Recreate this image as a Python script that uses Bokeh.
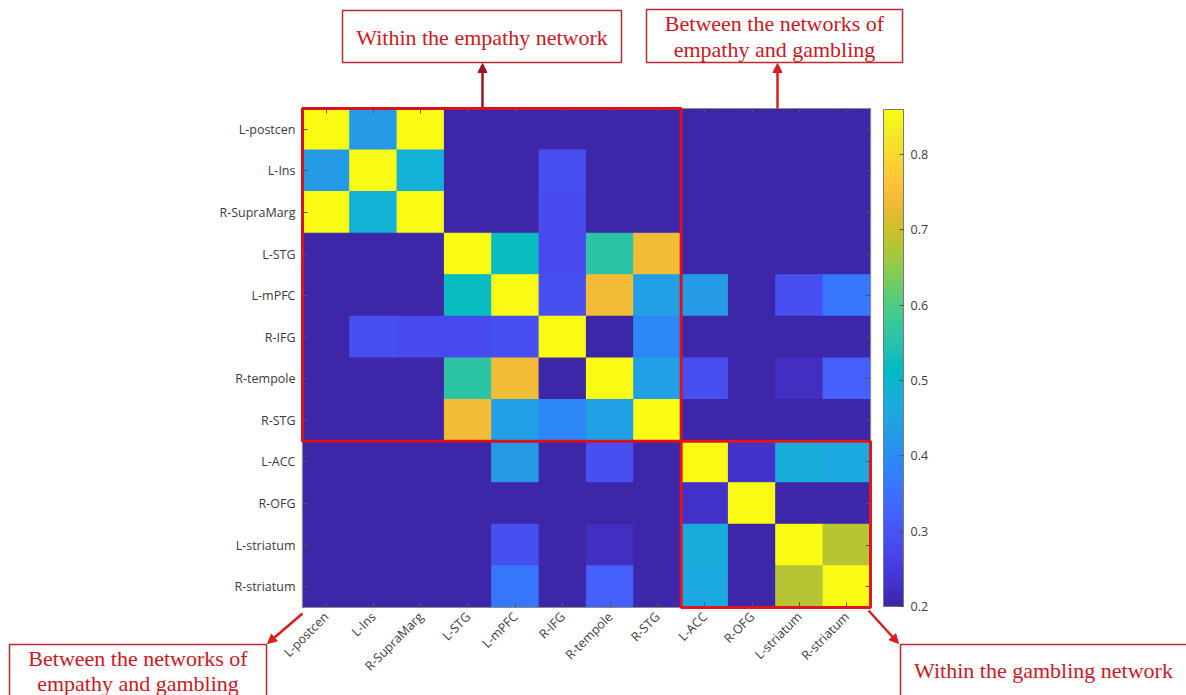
import numpy as np
from bokeh.plotting import figure
from bokeh.models import (LinearColorMapper, ColorBar, FixedTicker, Range1d, LinearAxis,
                          Label, Arrow, NormalHead, BoxAnnotation, ColumnDataSource)
from bokeh.transform import transform
from bokeh.embed import file_html
from bokeh.resources import INLINE

# ---- regions of interest -------------------------------------------------
regions = ["L-postcen", "L-Ins", "R-SupraMarg", "L-STG", "L-mPFC", "R-IFG",
           "R-tempole", "R-STG", "L-ACC", "R-OFG", "L-striatum", "R-striatum"]
network_names = ["empathy", "gambling"]
network_sizes = [8, 4]

# ---- connectivity matrix, one row per region -----------------------------
row_l_postcen   = [1.00, 0.43, 0.88, 0.20, 0.20, 0.20, 0.20, 0.20, 0.20, 0.20, 0.20, 0.20]
row_l_ins       = [0.43, 1.00, 0.48, 0.20, 0.20, 0.29, 0.20, 0.20, 0.20, 0.20, 0.20, 0.20]
row_r_supramarg = [0.88, 0.48, 1.00, 0.20, 0.20, 0.28, 0.20, 0.20, 0.20, 0.20, 0.20, 0.20]
row_l_stg       = [0.20, 0.20, 0.20, 1.00, 0.52, 0.28, 0.56, 0.74, 0.20, 0.20, 0.20, 0.20]
row_l_mpfc      = [0.20, 0.20, 0.20, 0.52, 1.00, 0.29, 0.74, 0.44, 0.43, 0.20, 0.29, 0.36]
row_r_ifg       = [0.20, 0.29, 0.28, 0.28, 0.29, 1.00, 0.20, 0.39, 0.20, 0.20, 0.20, 0.20]
row_r_tempole   = [0.20, 0.20, 0.20, 0.56, 0.74, 0.20, 1.00, 0.44, 0.29, 0.20, 0.225, 0.32]
row_r_stg       = [0.20, 0.20, 0.20, 0.74, 0.44, 0.39, 0.44, 1.00, 0.20, 0.20, 0.20, 0.20]
row_l_acc       = [0.20, 0.20, 0.20, 0.20, 0.43, 0.20, 0.29, 0.20, 1.00, 0.233, 0.47, 0.46]
row_r_ofg       = [0.20, 0.20, 0.20, 0.20, 0.20, 0.20, 0.20, 0.20, 0.233, 1.00, 0.20, 0.20]
row_l_striatum  = [0.20, 0.20, 0.20, 0.20, 0.29, 0.20, 0.225, 0.20, 0.47, 0.20, 1.00, 0.68]
row_r_striatum  = [0.20, 0.20, 0.20, 0.20, 0.36, 0.20, 0.32, 0.20, 0.46, 0.20, 0.68, 1.00]

matrix = [row_l_postcen, row_l_ins, row_r_supramarg, row_l_stg, row_l_mpfc, row_r_ifg,
          row_r_tempole, row_r_stg, row_l_acc, row_r_ofg, row_l_striatum, row_r_striatum]

color_low, color_high = 0.2, 0.86
colorbar_ticks = [0.2, 0.3, 0.4, 0.5, 0.6, 0.7, 0.8]

# ---- parula-like palette -------------------------------------------------
_anchors = np.array([
    [0.2422, 0.1504, 0.6603], [0.2647, 0.1978, 0.7952], [0.2783, 0.2559, 0.8991],
    [0.2810, 0.3228, 0.9579], [0.2699, 0.3892, 0.9906], [0.2206, 0.4603, 0.9973],
    [0.1786, 0.5289, 0.9682], [0.1540, 0.5902, 0.9218], [0.1248, 0.6459, 0.8883],
    [0.0689, 0.6948, 0.8394], [0.0067, 0.7312, 0.7660], [0.1408, 0.7584, 0.6842],
    [0.2161, 0.7843, 0.5923], [0.3406, 0.8008, 0.4789], [0.5044, 0.7993, 0.3480],
    [0.6720, 0.7793, 0.2227], [0.8203, 0.7498, 0.1535], [0.9393, 0.7288, 0.2100],
    [0.9970, 0.7659, 0.2199], [0.9786, 0.8386, 0.1766], [0.9597, 0.9135, 0.1423],
    [0.9769, 0.9839, 0.0805]])
_t_a = np.linspace(0, 1, len(_anchors))
_t = np.linspace(0, 1, 256)
parula = ["#%02x%02x%02x" % tuple(int(round(255 * np.interp(tt, _t_a, _anchors[:, k])))
                                   for k in range(3)) for tt in _t]

# ---- long-form table for the heatmap (cell centres at index + 0.5) --------
n = len(regions)
xs, ys, vals = [], [], []
for i in range(n):
    for j in range(n):
        xs.append(j + 0.5)
        ys.append(i + 0.5)
        vals.append(matrix[i][j])
source = ColumnDataSource(dict(x=xs, y=ys, v=vals))

mapper = LinearColorMapper(palette=parula, low=color_low, high=color_high)

# ---- page and matrix placement (pixels) -----------------------------------
W, H = 1186, 695
FL, FT, FR, FB = 302, 108, 870, 607
cw = (FR - FL) / n
ch = (FB - FT) / n

p = figure(width=W, height=H,
           x_range=Range1d(-FL / cw, (W - FL) / cw),
           y_range=Range1d((H - FT) / ch, -FT / ch),     # row 0 at the top
           x_axis_location=None, y_axis_location=None,
           output_backend="svg", toolbar_location=None,
           min_border_left=0, min_border_right=0, min_border_top=0, min_border_bottom=0)
p.title.visible = False
p.background_fill_color = "white"
p.border_fill_color = "white"
p.outline_line_color = None
p.grid.visible = False

# cells: outline in the fill colour so neighbouring cells meet without seams
p.rect(x="x", y="y", width=1, height=1, source=source,
       fill_color=transform("v", mapper), line_color=transform("v", mapper),
       line_width=1.2)

# ---- axes pinned to the matrix edges --------------------------------------
tick_pos = [k + 0.5 for k in range(n)]
names = {t: r for t, r in zip(tick_pos, regions)}
blank = {t: "" for t in tick_pos}


def make_axis(loc, labels):
    ax = LinearAxis(fixed_location=loc, ticker=FixedTicker(ticks=tick_pos),
                    major_label_overrides=labels, bounds=(0, n))
    ax.major_label_text_font = "Open Sans"
    ax.major_label_text_font_size = "12.5px"
    ax.major_label_text_color = "#3c3c3c"
    ax.axis_line_color = "#8c8c8c"
    ax.major_tick_line_color = "#555555"
    ax.major_tick_in = 5
    ax.major_tick_out = 0
    ax.minor_tick_line_color = None
    ax.major_label_standoff = 7
    return ax


ax_left = make_axis(0, names)
ax_below = make_axis(n, names)
ax_below.major_label_orientation = np.pi / 4
ax_above = make_axis(0, blank)
ax_right = make_axis(n, blank)
p.add_layout(ax_left, "left")
p.add_layout(ax_below, "below")
p.add_layout(ax_above, "above")
p.add_layout(ax_right, "right")

# network blocks outlined in red, drawn above the axis lines
n_emp, n_gam = network_sizes
blocks = p.quad(left=[0, n_emp], right=[n_emp, n_emp + n_gam],
                top=[0, n_emp], bottom=[n_emp, n_emp + n_gam],
                fill_color=None, line_color=["#d8121f", "#e3141c"], line_width=3)
blocks.level = "overlay"

# ---- colour bar -----------------------------------------------------------
cb = ColorBar(color_mapper=mapper, ticker=FixedTicker(ticks=colorbar_ticks),
              orientation="vertical", width=20, height=497,
              location=(883, H - 606), margin=0, padding=0,
              bar_line_color="#7a7a7a", major_tick_line_color="#555555",
              major_tick_in=4, major_tick_out=0, label_standoff=7,
              major_label_text_font="Open Sans", major_label_text_font_size="12.5px",
              major_label_text_color="#3c3c3c", background_fill_alpha=0,
              border_line_color=None)
p.add_layout(cb, "center")


# ---- callouts, positioned in page pixels ----------------------------------
def sx(x):
    return x


def sy(y):
    return H - y


box_color = "#bf2a2e"
text_color = "#d3161c"
callouts = [
    (342, 621, 10, 62, ["Within the empathy network"], [37]),
    (646, 902, 9, 62, ["Between the networks of", "empathy and gambling"], [23, 49]),
    (9, 266, 644, 700, ["Between the networks of", "empathy and gambling"], [658, 683]),
    (900, 1190, 644, 700, ["Within the gambling network"], [670]),
]
for left, right, top, bottom, lines, ys_ in callouts:
    p.add_layout(BoxAnnotation(left=sx(left), right=sx(right), top=sy(top), bottom=sy(bottom),
                               left_units="screen", right_units="screen",
                               top_units="screen", bottom_units="screen",
                               fill_color="white", fill_alpha=1,
                               line_color=box_color, line_alpha=1, line_width=1.5))
    for ln, yy in zip(lines, ys_):
        p.add_layout(Label(x=sx((left + min(right, W)) / 2), y=sy(yy), text=ln,
                           x_units="screen", y_units="screen",
                           text_align="center", text_baseline="middle",
                           text_font="Liberation Serif", text_font_size="22px",
                           text_color=text_color))

arrows = [
    (482, FT, 482, 63, "#a3121f"),
    (777, FT, 777, 63, "#e01b1b"),
    (302, 613, 267, 643, "#e01b1b"),
    (868, 610, 898, 643, "#e01b1b"),
]
for x0, y0, x1, y1, col in arrows:
    p.add_layout(Arrow(x_start=sx(x0), y_start=sy(y0), x_end=sx(x1), y_end=sy(y1),
                       start_units="screen", end_units="screen",
                       line_color=col, line_width=2.5,
                       end=NormalHead(size=9, fill_color=col, line_color=col)))

open("out.html", "w").write(file_html(p, INLINE))
